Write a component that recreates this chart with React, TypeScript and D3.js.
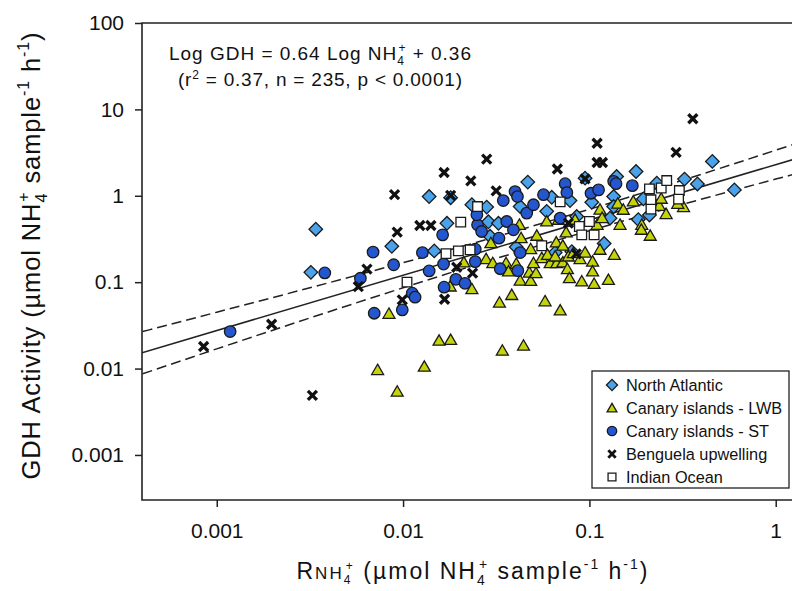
import React, { useEffect, useRef } from "react";
import * as d3 from "d3";

// ---- data ----
const northAtlantic: [number, number][] = [
  [0.0034, 0.41], [0.0032, 0.13], [0.0087, 0.26], [0.0138, 0.98], [0.018, 0.95],
  [0.0172, 0.48], [0.0147, 0.23], [0.0234, 0.79], [0.0281, 0.74], [0.0287, 0.5],
  [0.0325, 0.48], [0.0293, 0.34], [0.0467, 1.44], [0.0425, 0.75], [0.0405, 0.255],
  [0.0628, 0.96], [0.059, 0.66], [0.0787, 0.88], [0.0855, 0.575], [0.0805, 0.226],
  [0.0948, 1.6], [0.103, 0.84], [0.14, 1.67], [0.135, 0.98], [0.135, 0.75],
  [0.129, 0.55], [0.12, 0.28], [0.178, 1.91], [0.183, 0.53], [0.195, 0.92],
  [0.23, 1.4], [0.21, 0.6], [0.324, 1.56], [0.38, 1.37], [0.457, 2.5],
  [0.6, 1.17], [0.0655, 0.22],
];

const canaryLWB: [number, number][] = [
  [0.0073, 0.0096], [0.0093, 0.0054], [0.013, 0.0105], [0.0156, 0.021], [0.018, 0.0214],
  [0.0341, 0.0161], [0.0443, 0.0184], [0.0084, 0.043], [0.0179, 0.089], [0.0234, 0.083],
  [0.0329, 0.058], [0.0383, 0.071], [0.0578, 0.06], [0.0697, 0.047], [0.0212, 0.169],
  [0.0279, 0.185], [0.0303, 0.166], [0.0357, 0.166], [0.0368, 0.133], [0.0405, 0.163],
  [0.0425, 0.104], [0.0476, 0.129], [0.0484, 0.1035], [0.0517, 0.127], [0.0501, 0.166],
  [0.0555, 0.19], [0.0616, 0.166], [0.0668, 0.166], [0.072, 0.169], [0.0762, 0.1415],
  [0.0781, 0.111], [0.091, 0.102], [0.104, 0.173], [0.104, 0.133], [0.106, 0.0955],
  [0.1265, 0.106], [0.136, 0.207], [0.114, 0.237], [0.0296, 0.283], [0.043, 0.323],
  [0.0522, 0.344], [0.0664, 0.288], [0.072, 0.264], [0.0484, 0.241], [0.0596, 0.207],
  [0.0655, 0.198], [0.0771, 0.198], [0.0891, 0.185], [0.0948, 0.22], [0.0421, 0.461],
  [0.059, 0.504], [0.0682, 0.527], [0.075, 0.376], [0.0838, 0.527], [0.11, 0.461],
  [0.114, 0.69], [0.117, 0.552], [0.142, 0.81], [0.146, 0.461], [0.172, 0.859],
  [0.191, 0.461], [0.19, 0.404], [0.212, 0.344], [0.237, 0.765], [0.243, 0.923],
  [0.258, 0.614], [0.32, 0.74], [0.152, 0.688], [0.298, 0.807], [0.082, 0.217],
];

const canaryST: [number, number][] = [
  [0.0038, 0.128], [0.00118, 0.0268], [0.0059, 0.111], [0.0069, 0.223], [0.0089, 0.159],
  [0.007, 0.0437], [0.0099, 0.0478], [0.0112, 0.0746], [0.0116, 0.067], [0.0127, 0.22],
  [0.0138, 0.135], [0.0163, 0.353], [0.0165, 0.162], [0.0166, 0.0875], [0.0192, 0.108],
  [0.0215, 0.097], [0.0244, 0.241], [0.0244, 0.173], [0.0251, 0.461], [0.0264, 0.386],
  [0.0249, 0.602], [0.0327, 0.323], [0.0332, 0.143], [0.036, 0.504], [0.0345, 0.88],
  [0.0391, 0.404], [0.0399, 1.12], [0.0411, 0.98], [0.0413, 0.136], [0.0425, 0.22],
  [0.0461, 0.63], [0.0501, 0.787], [0.0567, 1.03], [0.0697, 0.552], [0.0741, 1.38],
  [0.0757, 1.09], [0.102, 1.07], [0.112, 1.17], [0.135, 1.47], [0.139, 1.38],
  [0.17, 1.31],
];

const benguela: [number, number][] = [
  [0.00085, 0.018], [0.00197, 0.0326], [0.00326, 0.0049], [0.00575, 0.089], [0.0064, 0.1415],
  [0.009, 1.03], [0.0093, 0.379], [0.0123, 0.453], [0.0141, 0.453], [0.0099, 0.0624],
  [0.0167, 0.0635], [0.0166, 1.86], [0.0281, 2.66], [0.0231, 1.49], [0.0316, 1.14],
  [0.018, 1.01], [0.0673, 2.04], [0.11, 4.06], [0.11, 2.43], [0.1175, 2.43],
  [0.0948, 1.57], [0.359, 7.8], [0.292, 3.18], [0.0194, 0.149], [0.0236, 0.127],
  [0.0771, 0.482], [0.085, 0.213],
];

const indianOcean: [number, number][] = [
  [0.0105, 0.1], [0.017, 0.214], [0.0198, 0.23], [0.0229, 0.237], [0.0204, 0.496],
  [0.0251, 0.751], [0.0555, 0.264], [0.0697, 0.85], [0.0883, 0.441], [0.1, 0.504],
  [0.091, 0.353], [0.106, 0.353], [0.21, 1.2], [0.243, 1.23], [0.26, 1.5],
  [0.304, 1.15], [0.301, 0.916], [0.214, 0.899], [0.214, 0.7],
];

// regression: Log GDH = 0.64 Log NH4+ + 0.36
const fitSlope = 0.64;
const fitIntercept = 0.36;

// 95% confidence band
const bandX = [0.0004, 0.001, 0.00316, 0.01, 0.0316, 0.063, 0.1, 0.316, 1, 1.35];
const bandUpper = [0.0268, 0.0449, 0.0861, 0.168, 0.336, 0.519, 0.698, 1.51, 3.37, 4.17];
const bandLower = [0.0087, 0.0169, 0.0385, 0.0861, 0.188, 0.294, 0.394, 0.794, 1.56, 1.85];

const xTicks = [0.001, 0.01, 0.1, 1];
const xTickLabels = ["0.001", "0.01", "0.1", "1"];
const yTicks = [0.001, 0.01, 0.1, 1, 10, 100];
const yTickLabels = ["0.001", "0.01", "0.1", "1", "10", "100"];

const seriesNames = [
  "North Atlantic",
  "Canary islands - LWB",
  "Canary islands - ST",
  "Benguela upwelling",
  "Indian Ocean",
];

type Part = { t: string; size: number; off?: number; dx?: number };

const App = () => {
  const ref = useRef<SVGSVGElement>(null);

  useEffect(() => {
    const width = 792;
    const height = 591;
    const plot = { left: 142, right: 800, top: 23, bottom: 500 };
    const font = "'Liberation Sans', Arial, sans-serif";
    const ink = "#222";

    const svg = d3.select(ref.current).attr("width", width).attr("height", height);
    svg.selectAll("*").remove();
    svg.append("rect").attr("width", width).attr("height", height).attr("fill", "#fff");

    const x = d3.scaleLog().domain([0.000397, 1.35]).range([plot.left, plot.right]);
    const y = d3.scaleLog().domain([0.000301, 100]).range([plot.bottom, plot.top]);

    svg.append("defs").append("clipPath").attr("id", "plotclip")
      .append("rect")
      .attr("x", plot.left).attr("y", plot.top)
      .attr("width", plot.right - plot.left).attr("height", plot.bottom - plot.top);

    // rich text helper (sub/superscripts)
    const rich = (sel: any, parts: Part[]) => {
      let cur = 0;
      parts.forEach((p) => {
        const off = p.off ?? 0;
        sel.append("tspan")
          .attr("font-size", p.size)
          .attr("dy", off - cur)
          .attr("dx", p.dx ?? 0)
          .text(p.t);
        cur = off;
      });
    };

    // axes
    const yAxis = (g: any) =>
      g.attr("transform", `translate(${plot.left},0)`)
        .call(d3.axisLeft(y).tickValues(yTicks)
          .tickFormat((d, i) => yTickLabels[i]).tickSize(7).tickSizeOuter(0).tickPadding(11))
        .call((g: any) => g.select(".domain").remove());
    const xAxis = (g: any) =>
      g.attr("transform", `translate(0,${plot.bottom})`)
        .call(d3.axisBottom(x).tickValues(xTicks)
          .tickFormat((d, i) => xTickLabels[i]).tickSize(7).tickSizeOuter(0).tickPadding(16))
        .call((g: any) => g.select(".domain").remove());

    [svg.append("g").call(yAxis), svg.append("g").call(xAxis)].forEach((g) => {
      g.selectAll("line").attr("stroke", ink).attr("stroke-width", 1.5);
      g.selectAll("text").attr("font-size", 21).attr("font-family", font).attr("fill", "#111");
    });

    // frame (left, bottom, top)
    svg.append("path")
      .attr("d", `M${plot.right},${plot.top}H${plot.left}V${plot.bottom}H${plot.right}`)
      .attr("fill", "none").attr("stroke", ink).attr("stroke-width", 1.6);

    // regression + confidence band
    const lines = svg.append("g").attr("clip-path", "url(#plotclip)");
    const fitX = x.domain();
    const fitPts = fitX.map((v) => [v, Math.pow(10, fitSlope * Math.log10(v) + fitIntercept)]);
    const line = d3.line<number[]>().x((d) => x(d[0])).y((d) => y(d[1]));
    const band = d3.line<number>()
      .x((d, i) => x(bandX[i]))
      .y((d) => y(d))
      .curve(d3.curveMonotoneX);

    lines.append("path").attr("d", line(fitPts))
      .attr("fill", "none").attr("stroke", ink).attr("stroke-width", 1.5);
    [bandUpper, bandLower].forEach((b) => {
      lines.append("path").attr("d", band(b))
        .attr("fill", "none").attr("stroke", ink).attr("stroke-width", 1.5)
        .attr("stroke-dasharray", "10,5");
    });

    // markers
    const styles = [
      { type: "diamond", fill: "#4aa3ea" },
      { type: "triangle", fill: "#c5d40a" },
      { type: "circle", fill: "#2456cf" },
      { type: "cross", fill: "none" },
      { type: "square", fill: "#ffffff" },
    ];
    const markerPath = (type: string, k: number) => {
      if (type === "diamond") return d3.symbol(d3.symbolSquare, 92 * k * k)();
      if (type === "triangle") return d3.symbol(d3.symbolTriangle, 62 * k * k)();
      if (type === "circle") return d3.symbol(d3.symbolCircle, 104 * k * k)();
      if (type === "square") return d3.symbol(d3.symbolSquare, 92 * k * k)();
      const a = 4.5 * k;
      return `M${-a},${-a}L${a},${a}M${-a},${a}L${a},${-a}`;
    };
    const drawMarker = (g: any, type: string, fill: string, k: number) => {
      const p = g.append("path").attr("d", markerPath(type, k));
      if (type === "cross") {
        p.attr("fill", "none").attr("stroke", "#111").attr("stroke-width", k < 1 ? 2.8 : 3.3);
      } else {
        p.attr("fill", fill).attr("stroke", "#1a1a1a").attr("stroke-width", 1.3);
      }
      if (type === "diamond") p.attr("transform", "rotate(45)");
      if (type === "triangle") p.attr("transform", "translate(0,1)");
    };

    const allSeries = [northAtlantic, canaryLWB, canaryST, benguela, indianOcean];
    const pts = svg.append("g");
    allSeries.forEach((data, si) => {
      const st = styles[si];
      pts.append("g").selectAll("g").data(data).enter().append("g")
        .attr("transform", (d) => `translate(${x(d[0])},${y(d[1])})`)
        .each(function () {
          drawMarker(d3.select(this), st.type, st.fill, 1);
        });
    });

    // equation
    const eq = svg.append("g").attr("font-family", font).attr("fill", "#111");
    const eq1 = eq.append("text").attr("x", 320).attr("y", 60).attr("text-anchor", "middle")
      .attr("textLength", 302).attr("lengthAdjust", "spacing");
    rich(eq1, [
      { t: "Log GDH = 0.64 Log NH", size: 19 },
      { t: "4", size: 12, off: 5 },
      { t: "+", size: 12, off: -8, dx: -6.5 },
      { t: " + 0.36", size: 19 },
    ]);
    const eq2 = eq.append("text").attr("x", 320).attr("y", 86).attr("text-anchor", "middle")
      .attr("textLength", 284).attr("lengthAdjust", "spacing");
    rich(eq2, [
      { t: "(r", size: 19 },
      { t: "2", size: 12, off: -7 },
      { t: " = 0.37, n = 235, p < 0.0001)", size: 19 },
    ]);

    // legend
    const lg = svg.append("g").attr("font-family", font);
    lg.append("rect").attr("x", 592).attr("y", 371).attr("width", 197).attr("height", 117)
      .attr("fill", "#fff").attr("stroke", ink).attr("stroke-width", 1.3);
    seriesNames.forEach((name, i) => {
      const row = lg.append("g").attr("transform", `translate(0,${385 + i * 23})`);
      const m = row.append("g").attr("transform", "translate(612,0)");
      drawMarker(m, styles[i].type, styles[i].fill, 0.82);
      row.append("text").attr("x", 626).attr("dy", "0.35em")
        .attr("font-size", 16.3).attr("fill", "#111").text(name);
    });

    // axis titles
    const xt = svg.append("text").attr("x", 472).attr("y", 579)
      .attr("text-anchor", "middle").attr("font-family", font).attr("fill", "#111")
      .attr("textLength", 351).attr("lengthAdjust", "spacing");
    rich(xt, [
      { t: "R", size: 23 },
      { t: "NH", size: 17 },
      { t: "4", size: 12, off: 5 },
      { t: "+", size: 12, off: -9, dx: -6.5 },
      { t: " (µmol NH", size: 23 },
      { t: "4", size: 14, off: 6 },
      { t: "+", size: 14, off: -10, dx: -7.8 },
      { t: " sample", size: 23 },
      { t: "-1", size: 14, off: -10 },
      { t: " h", size: 23 },
      { t: "-1", size: 14, off: -10 },
      { t: ")", size: 23 },
    ]);

    const yt = svg.append("text").attr("transform", "translate(40,256) rotate(-90)")
      .attr("text-anchor", "middle").attr("font-family", font).attr("fill", "#111")
      .attr("textLength", 447).attr("lengthAdjust", "spacing");
    rich(yt, [
      { t: "GDH Activity (µmol NH", size: 25.5 },
      { t: "4", size: 16, off: 7 },
      { t: "+", size: 16, off: -11, dx: -8.9 },
      { t: " sample", size: 25.5 },
      { t: "-1", size: 16, off: -11 },
      { t: " h", size: 25.5 },
      { t: "-1", size: 16, off: -11 },
      { t: ")", size: 25.5 },
    ]);
  }, []);

  return (
    <svg ref={ref} style={{ position: "absolute", left: 0, top: 0, display: "block" }}></svg>
  );
};

export default App;
